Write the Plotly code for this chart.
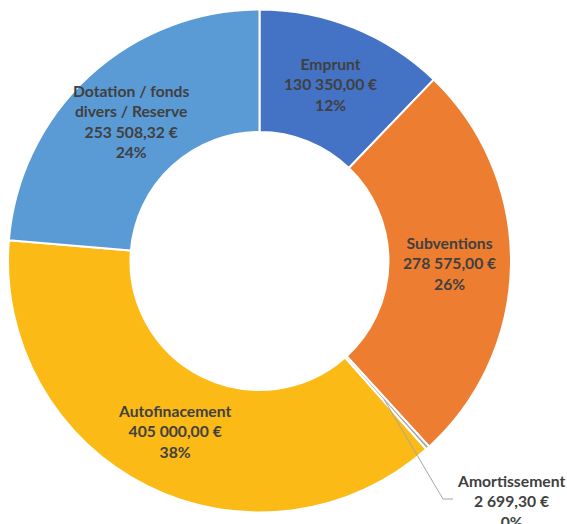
import math
import plotly.graph_objects as go

labels = ["Emprunt", "Subventions", "Amortissement", "Autofinacement", "Dotation / fonds<br>divers / Reserve"]
values = [130350.00, 278575.00, 2699.30, 405000.00, 253508.32]
colors = ["#4472C4", "#ED7D31", "#A5A5A5", "#FBBA16", "#5B9BD5"]
outside = [False, False, True, False, False]

W, H = 567, 524
cx, cy, R = 259.5, 261.0, 251.5
hole = 0.513
FS = 15.7
FONT = dict(family="Lato", size=FS, color="#404040")

fig = go.Figure(go.Pie(
    labels=labels,
    values=values,
    sort=False,
    direction="clockwise",
    rotation=0,
    hole=hole,
    marker=dict(colors=colors, line=dict(color="white", width=2)),
    textinfo="none",
    hoverinfo="skip",
    showlegend=False,
    domain=dict(x=[(cx - R) / W, (cx + R) / W], y=[(H - cy - R) / H, (H - cy + R) / H]),
))

total = sum(values)
r_mid = R * (1 + hole) / 2
cum = 0.0
for lab, v, out in zip(labels, values, outside):
    mid = (cum + v / 2) / total * 2 * math.pi
    cum += v
    x0 = cx + r_mid * math.sin(mid)
    y0 = cy - r_mid * math.cos(mid)
    val_txt = f"{v:,.2f}".replace(",", " ").replace(".", ",")
    txt = f"<b>{lab}<br>{val_txt} €<br>{v / total * 100:.0f}%</b>"
    if not out:
        fig.add_annotation(x=x0 / W, y=1 - y0 / H, xref="paper", yref="paper",
                           text=txt, showarrow=False, xanchor="center",
                           yanchor="middle", font=FONT)
    else:
        x0 = cx + r_mid * 0.98 * math.sin(mid)
        y0 = cy - r_mid * 0.98 * math.cos(mid)
        ex, ey = 443, 499
        fig.add_shape(type="path",
                      path=f"M {x0/W} {1-y0/H} L {ex/W} {1-ey/H} L {(ex+10)/W} {1-ey/H}",
                      xref="paper", yref="paper", line=dict(color="#A6A6A6", width=1))
        fig.add_annotation(x=511 / W, y=1 - 501 / H, xref="paper", yref="paper",
                           text=txt, showarrow=False, xanchor="center",
                           yanchor="middle", font=FONT)

fig.update_layout(
    width=W, height=H,
    margin=dict(l=0, r=0, t=0, b=0),
    paper_bgcolor="white",
)
fig.write_html("out.html", config={"displayModeBar": False},
               post_script="document.body.style.margin='0';")
